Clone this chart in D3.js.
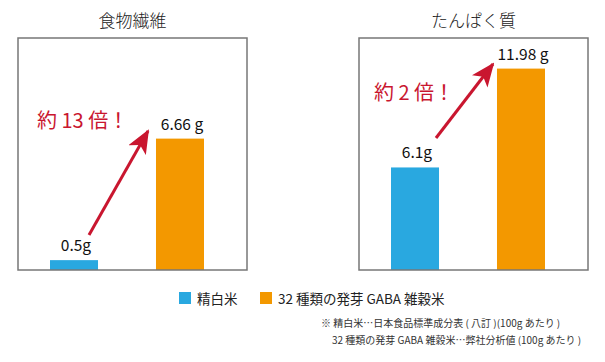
<!DOCTYPE html>
<html><head><meta charset="utf-8">
<script src="https://cdn.jsdelivr.net/npm/d3@7"></script>
<style>
body{margin:0;background:#fff;}
text{font-family:"Noto Sans CJK JP","Noto Sans",sans-serif;}
</style></head>
<body>
<svg id="c" width="605" height="362"></svg>
<script>
const panelTitles = ["食物繊維", "たんぱく質"];
const seriesNames = ["精白米", "32 種類の発芽 GABA 雑穀米"];
const whiteRice = [0.5, 6.1];
const gabaRice = [6.66, 11.98];
const valueLabels = [["0.5g", "6.66 g"], ["6.1g", "11.98 g"]];
const ratioLabels = ["約 13 倍！", "約 2 倍！"];
const notes = ["※  精白米…日本食品標準成分表 ( 八訂 )(100g あたり )", "32 種類の発芽 GABA 雑穀米…弊社分析値 (100g あたり )"];

const colors = ["#29a8e0", "#f39800"];
const red = "#c9162f";
const svg = d3.select("#c");

const panels = [
  {x0: 18, x1: 247, yMax: 11.76, ratioX: 37, ratioY: 128, arrowFrom: [89, 235], arrowTo: [148, 131]},
  {x0: 359, x1: 588, yMax: 13.8, ratioX: 374, ratioY: 100, arrowFrom: [436, 138], arrowTo: [493, 64]}
];
const plotTop = 38, plotBottom = 270;

const defs = svg.append("defs");
defs.append("marker").attr("id", "ah").attr("viewBox", "0 0 24 20")
  .attr("refX", 22).attr("refY", 10).attr("markerWidth", 24).attr("markerHeight", 20)
  .attr("markerUnits", "userSpaceOnUse").attr("orient", "auto")
  .append("path").attr("d", "M0,0 L24,10 L0,20 L6,10 Z").attr("fill", red);

panels.forEach((p, i) => {
  const g = svg.append("g");
  const x = d3.scaleBand().domain(seriesNames).range([p.x0 + 32, p.x0 + 186]).paddingInner(0.547).paddingOuter(0);
  const y = d3.scaleLinear().domain([0, p.yMax]).range([plotBottom, plotTop]);
  const vals = [whiteRice[i], gabaRice[i]];

  g.append("text").attr("x", (p.x0 + p.x1) / 2).attr("y", 27).attr("text-anchor", "middle")
    .attr("font-size", 17).attr("font-weight", 300).attr("fill", "#222").text(panelTitles[i]);

  g.selectAll("rect.bar").data(vals).join("rect").attr("class", "bar")
    .attr("x", (d, j) => x(seriesNames[j])).attr("width", x.bandwidth())
    .attr("y", d => y(d)).attr("height", d => plotBottom - y(d))
    .attr("fill", (d, j) => colors[j]);

  g.append("rect").attr("x", p.x0).attr("y", plotTop).attr("width", p.x1 - p.x0).attr("height", plotBottom - plotTop)
    .attr("fill", "none").attr("stroke", "#777").attr("stroke-width", 1.5);

  g.selectAll("text.val").data(vals).join("text").attr("class", "val")
    .attr("x", (d, j) => x(seriesNames[j]) + x.bandwidth() / 2 + 2).attr("y", d => y(d) - 9)
    .attr("text-anchor", "middle").attr("font-size", 15.5).attr("font-weight", 400).attr("fill", "#111")
    .attr("font-family", "'Open Sans','Noto Sans',sans-serif")
    .text((d, j) => valueLabels[i][j]);

  g.append("text").attr("x", p.ratioX).attr("y", p.ratioY).attr("font-size", 20).attr("fill", red)
    .text(ratioLabels[i]);

  g.append("line").attr("x1", p.arrowFrom[0]).attr("y1", p.arrowFrom[1])
    .attr("x2", p.arrowTo[0]).attr("y2", p.arrowTo[1])
    .attr("stroke", red).attr("stroke-width", 3).attr("marker-end", "url(#ah)");
});

// legend
const leg = svg.append("g");
const legX = [179, 260];
seriesNames.forEach((n, j) => {
  leg.append("rect").attr("x", legX[j]).attr("y", 292).attr("width", 12).attr("height", 12).attr("fill", colors[j]);
  leg.append("text").attr("x", legX[j] + 18).attr("y", 303.5).attr("font-size", 13.5).attr("fill", "#222").text(n);
});

svg.append("text").attr("x", 321).attr("y", 327).attr("font-size", 10).attr("fill", "#333").text(notes[0]);
svg.append("text").attr("x", 332).attr("y", 344).attr("font-size", 10).attr("fill", "#333").text(notes[1]);
</script>
</body></html>
